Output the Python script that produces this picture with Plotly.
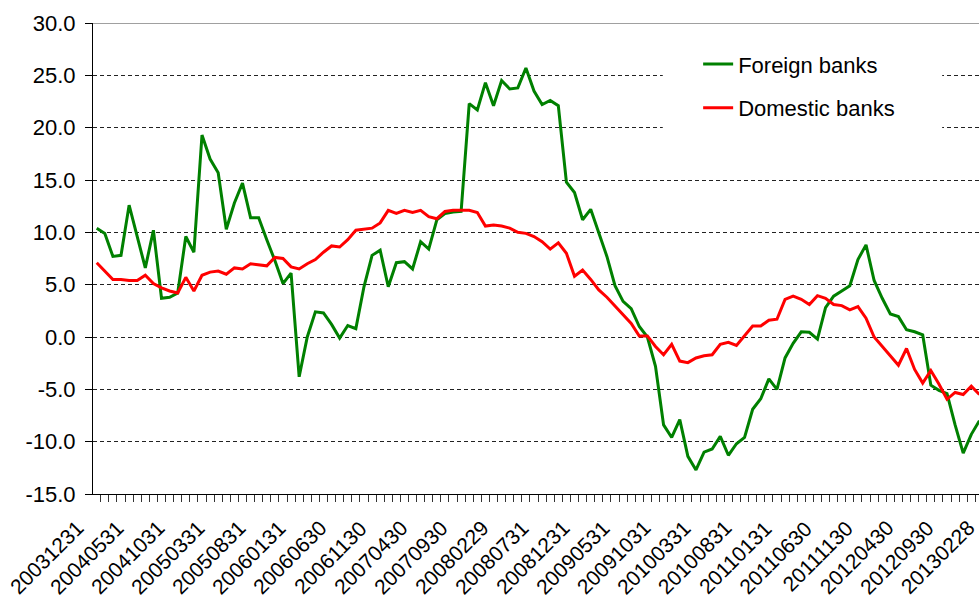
import pandas as pd
import plotly.graph_objects as go

# Month-end categories, Dec 2003 .. Jan 2013
dates = [d.strftime("%Y%m%d") for d in pd.date_range("2003-12-31", periods=110, freq="ME")]

foreign_banks = [
    10.4, 9.9, 7.7, 7.8, 12.6, 9.7, 6.6, 10.2, 3.7, 3.8,
    4.2, 9.6, 8.1, 19.3, 17.0, 15.7, 10.3, 12.8, 14.7, 11.4,
    11.4, 9.3, 7.3, 5.1, 6.1, -3.8, 0.0, 2.4, 2.3, 1.2,
    -0.1, 1.1, 0.8, 4.8, 7.8, 8.3, 4.8, 7.1, 7.2, 6.5,
    9.1, 8.4, 11.2, 11.8, 11.95, 12.0, 22.3, 21.7, 24.3, 22.1,
    24.5, 23.7, 23.8, 25.7, 23.5, 22.2, 22.6, 22.1, 14.8, 13.8,
    11.2, 12.2, 9.9, 7.7, 4.9, 3.4, 2.7, 1.0, 0.0, -2.8,
    -8.4, -9.6, -7.9, -11.4, -12.7, -11.0, -10.7, -9.5, -11.3, -10.2,
    -9.6, -6.9, -5.9, -4.0, -5.0, -2.0, -0.6, 0.5, 0.45, -0.2,
    2.8, 3.9, 4.4, 4.9, 7.4, 8.8, 5.4, 3.7, 2.2, 1.95,
    0.7, 0.5, 0.2, -4.6, -5.1, -5.4, -8.4, -11.1, -9.3, -8.0,
]

domestic_banks = [
    7.1, 6.3, 5.5, 5.5, 5.4, 5.4, 5.9, 5.1, 4.7, 4.4,
    4.2, 5.7, 4.4, 5.9, 6.2, 6.3, 6.0, 6.6, 6.5, 7.0,
    6.9, 6.8, 7.6, 7.5, 6.7, 6.5, 7.0, 7.4, 8.1, 8.7,
    8.6, 9.3, 10.2, 10.3, 10.4, 10.9, 12.1, 11.8, 12.1, 11.9,
    12.1, 11.5, 11.3, 12.0, 12.1, 12.1, 12.1, 11.9, 10.6, 10.7,
    10.6, 10.4, 10.0, 9.9, 9.6, 9.1, 8.4, 9.0, 8.0, 5.8,
    6.4, 5.5, 4.5, 3.8, 3.0, 2.2, 1.3, 0.1, 0.1, -0.9,
    -1.7, -0.7, -2.3, -2.45, -2.0, -1.8, -1.7, -0.7, -0.5, -0.8,
    0.1, 1.05, 1.05, 1.6, 1.7, 3.6, 3.9, 3.6, 3.1, 3.95,
    3.7, 3.1, 3.0, 2.6, 2.9, 1.8, 0.0, -0.9, -1.8, -2.7,
    -1.1, -3.1, -4.4, -3.2, -4.5, -5.95, -5.3, -5.5, -4.7, -5.5,
]

tick_labels = [
    "20031231", "20040531", "20041031", "20050331", "20050831", "20060131",
    "20060630", "20061130", "20070430", "20070930", "20080229", "20080731",
    "20081231", "20090531", "20091031", "20100331", "20100831", "20110131",
    "20110630", "20111130", "20120430", "20120930", "20130228",
]
label_step = 5
y_ticks = [-15, -10, -5, 0, 5, 10, 15, 20, 25, 30]
y_tick_text = [f"{v:.1f}" for v in y_ticks]

FONT = "Liberation Sans, Arial, sans-serif"
X_RANGE = [-0.46, 108.95]
x_idx = list(range(len(dates)))

fig = go.Figure()
fig.add_trace(go.Scatter(x=x_idx, y=foreign_banks, mode="lines", name="Foreign banks",
                         line=dict(color="#008000", width=3), legendgroup="a",
                         customdata=dates, hovertemplate="%{customdata}: %{y}<extra></extra>"))
fig.add_trace(go.Scatter(x=x_idx, y=domestic_banks, mode="lines", name="Domestic banks",
                         line=dict(color="#FF0000", width=3), legendgroup="b",
                         customdata=dates, hovertemplate="%{customdata}: %{y}<extra></extra>"))

# Rotated category labels (every 5th month), placed under the category positions
annotations = []
for i, lab in enumerate(tick_labels):
    k = i * label_step
    xp = (k - X_RANGE[0]) / (X_RANGE[1] - X_RANGE[0])
    annotations.append(dict(
        text=lab, xref="paper", yref="paper", x=xp, y=0,
        xanchor="right", yanchor="top", textangle=-45,
        xshift=-8, yshift=-21, showarrow=False, borderpad=0,
        font=dict(family=FONT, size=21, color="black"),
    ))

fig.update_layout(
    width=979, height=601,
    margin=dict(l=93, r=0, t=23, b=107),
    paper_bgcolor="white", plot_bgcolor="white",
    font=dict(family=FONT, size=22, color="black"),
    showlegend=True,
    legend=dict(x=0.683, y=0.957, xanchor="left", yanchor="top",
                bgcolor="rgba(0,0,0,0)", borderwidth=0,
                font=dict(family=FONT, size=22, color="black"),
                traceorder="grouped", tracegroupgap=12),
    annotations=annotations,
    shapes=[
        dict(type="rect", xref="x", yref="y", x0=69.9, x1=104.4, y0=17.9, y1=28.8,
             fillcolor="white", line=dict(width=0), layer="between"),
        dict(type="line", xref="paper", yref="y", x0=0, x1=1, y0=30, y1=30,
             line=dict(color="#808080", width=1.5), layer="between"),
    ],
)

fig.update_xaxes(
    range=X_RANGE, automargin=False,
    showticklabels=False, ticks="", showgrid=False, zeroline=False,
    showline=True, linecolor="black", linewidth=1,
    minor=dict(ticks="outside", tick0=-0.5, dtick=1, ticklen=7, tickcolor="#333", tickwidth=1, showgrid=False),
)
fig.update_yaxes(
    range=[-15, 30], automargin=False,
    tickmode="array", tickvals=y_ticks, ticktext=y_tick_text,
    ticks="outside", ticklen=7, tickcolor="black", ticklabelstandoff=5,
    showline=True, linecolor="black", linewidth=1,
    showgrid=True, gridcolor="#222", gridwidth=1, griddash="4px,3px",
    zeroline=False,
    tickfont=dict(family=FONT, size=22, color="black"),
)

# remove the browser's default body margin so the figure fills the window exactly
fig.write_html("out.html", config={"displayModeBar": False},
               post_script="document.body.style.margin='0';")
